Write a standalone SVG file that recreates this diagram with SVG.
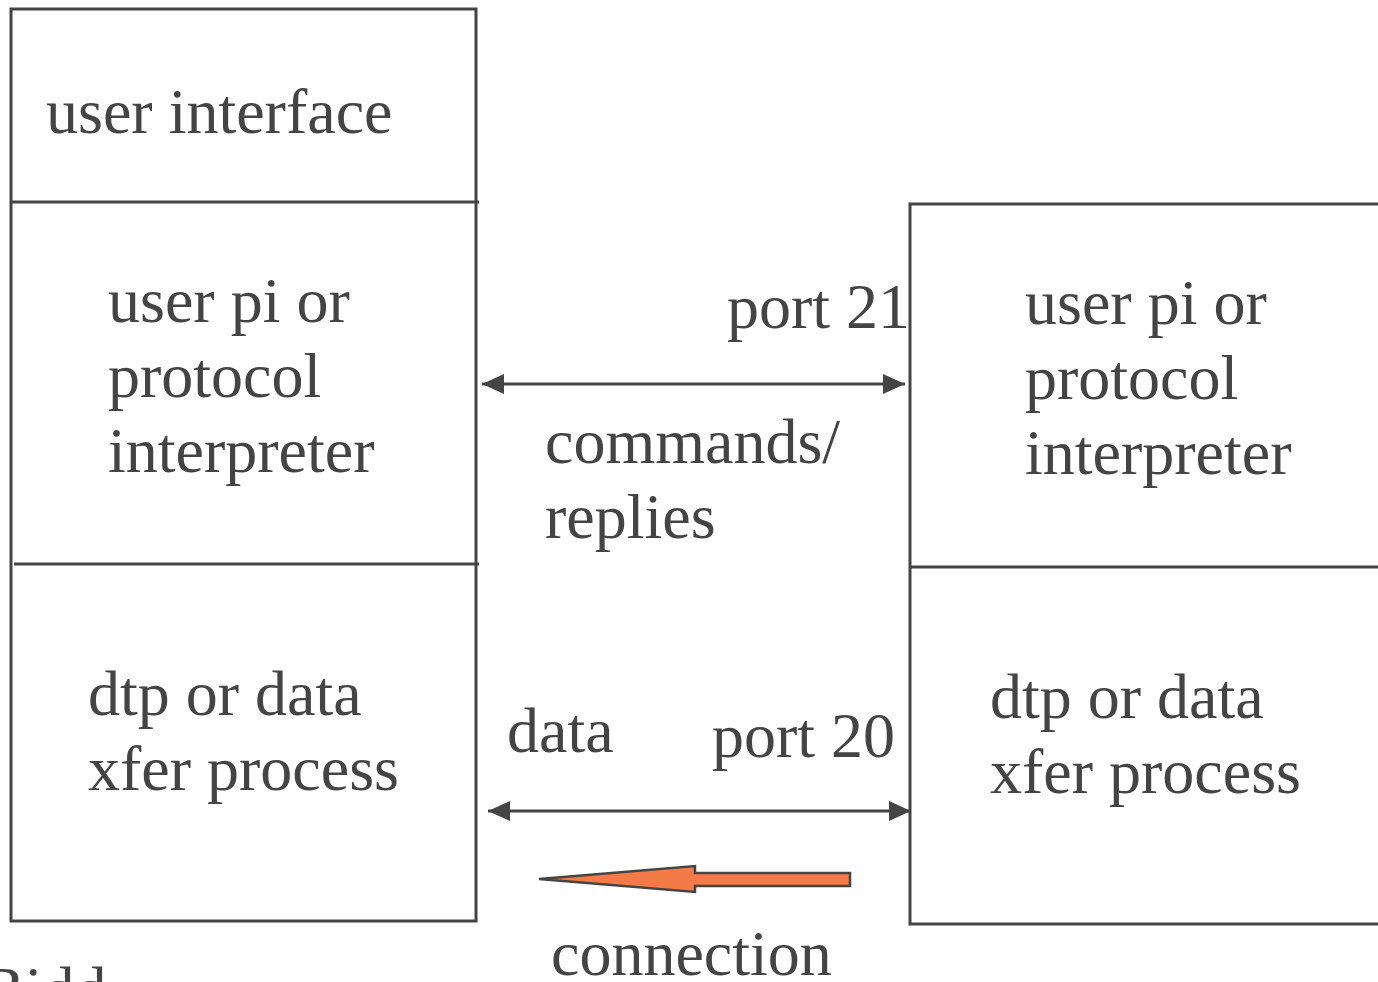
<svg xmlns="http://www.w3.org/2000/svg" width="1378" height="982" viewBox="0 0 1378 982">
  <style>
    .box { fill: none; stroke: #444444; stroke-width: 3; }
    .rule { stroke: #444444; stroke-width: 3; }
    .lbl { font-family: "Liberation Serif", "Times New Roman", serif; font-size: 64px; fill: #444444; }
    .link { stroke: #444444; stroke-width: 3; fill: none; }
  </style>
  <defs>
    <marker id="head" viewBox="0 0 22 20" refX="22" refY="10" markerWidth="22" markerHeight="20" markerUnits="userSpaceOnUse" orient="auto-start-reverse">
      <path d="M0,0 L22,10 L0,20 Z" fill="#444444"/>
    </marker>
  </defs>
  <rect width="1378" height="982" fill="#ffffff"/>

  <!-- client side stack -->
  <g id="client">
    <rect class="box" x="11" y="9" width="465" height="912"/>
    <line class="rule" x1="11" y1="202" x2="479" y2="202"/>
    <line class="rule" x1="14" y1="564" x2="479" y2="564"/>
    <text class="lbl" x="46" y="133">user interface</text>
    <text class="lbl" x="108" y="322">user pi or</text>
    <text class="lbl" x="108" y="397">protocol</text>
    <text class="lbl" x="108" y="472">interpreter</text>
    <text class="lbl" x="88" y="715">dtp or data</text>
    <text class="lbl" x="88" y="790">xfer process</text>
  </g>

  <!-- server side stack -->
  <g id="server">
    <rect class="box" x="910" y="204" width="480" height="720"/>
    <line class="rule" x1="910" y1="567" x2="1378" y2="567"/>
    <text class="lbl" x="1025" y="324">user pi or</text>
    <text class="lbl" x="1025" y="399">protocol</text>
    <text class="lbl" x="1025" y="474">interpreter</text>
    <text class="lbl" x="990" y="718">dtp or data</text>
    <text class="lbl" x="990" y="793">xfer process</text>
  </g>

  <!-- connections between the two sides -->
  <g id="connectors">
    <line class="link" x1="482" y1="384" x2="905" y2="384" marker-start="url(#head)" marker-end="url(#head)"/>
    <line class="link" x1="488" y1="811" x2="911" y2="811" marker-start="url(#head)" marker-end="url(#head)"/>
    <path d="M539,879 L695,866 L695,873 L850,873 L850,886 L695,886 L695,892 Z" fill="#f47a48" stroke="#444444" stroke-width="2.5" stroke-linejoin="miter"/>
    <text class="lbl" x="727" y="328">port 21</text>
    <text class="lbl" x="545" y="463">commands/</text>
    <text class="lbl" x="545" y="538">replies</text>
    <text class="lbl" x="507" y="752">data</text>
    <text class="lbl" x="712" y="757">port 20</text>
    <text class="lbl" x="551" y="975">connection</text>
  </g>

  <text class="lbl" x="-18" y="1011">Bidd</text>
</svg>
